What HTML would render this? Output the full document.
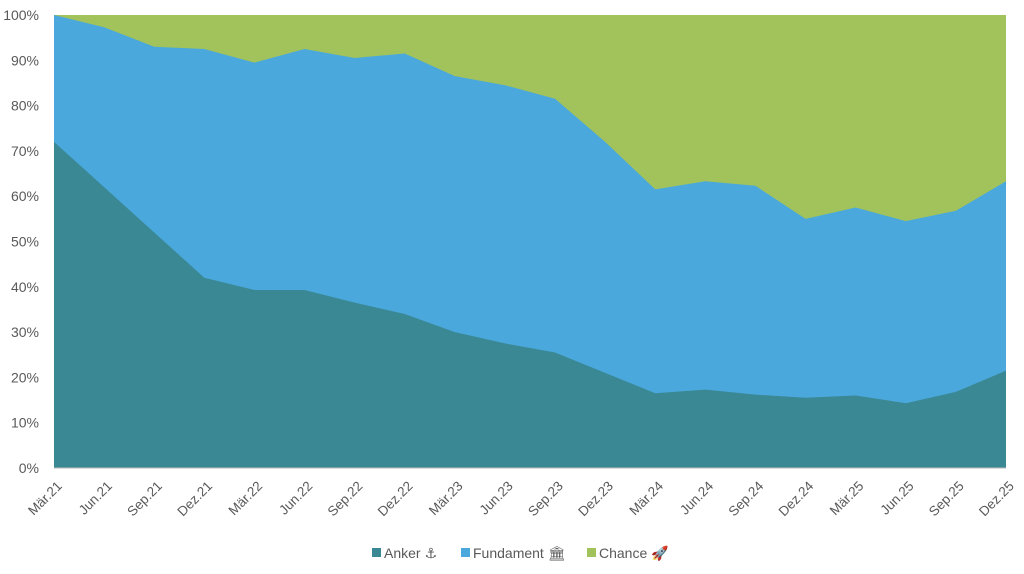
<!DOCTYPE html>
<html><head><meta charset="utf-8"><style>
body{margin:0;background:#fff;width:1024px;height:569px;overflow:hidden;font-family:"Liberation Sans","DejaVu Sans",sans-serif}
</style></head><body>
<svg width="1024" height="569" xmlns="http://www.w3.org/2000/svg" font-family="Liberation Sans, DejaVu Sans, sans-serif">
<g id="c"></g>
</svg>
<script>
const A=[72,62,52,42,39.3,39.3,36.5,34,30,27.5,25.5,21,16.5,17.3,16.2,15.5,16,14.3,16.8,21.5];
const T=[100,97.3,93,92.5,89.5,92.5,90.5,91.5,86.5,84.5,81.5,72,61.5,63.3,62.3,55,57.5,54.5,56.8,63.3];
const L=["Mär.21","Jun.21","Sep.21","Dez.21","Mär.22","Jun.22","Sep.22","Dez.22","Mär.23","Jun.23","Sep.23","Dez.23","Mär.24","Jun.24","Sep.24","Dez.24","Mär.25","Jun.25","Sep.25","Dez.25"];
const n=L.length,x0=54,x1=1006,y0=468,y1=15;
const X=i=>x0+(x1-x0)*i/(n-1),Y=v=>y0-(y0-y1)*v/100;
let s='';
s+=`<rect x="${x0}" y="${y1}" width="${x1-x0}" height="${y0-y1}" fill="#a2c35b"/>`;
let p=`M${x0},${y0} `;T.forEach((v,i)=>p+=`L${X(i)},${Y(v)} `);p+=`L${x1},${y0}Z`;
s+=`<path d="${p}" fill="#4aa8dc"/>`;
p=`M${x0},${y0} `;A.forEach((v,i)=>p+=`L${X(i)},${Y(v)} `);p+=`L${x1},${y0}Z`;
s+=`<path d="${p}" fill="#3a8893"/>`;
for(let k=0;k<=10;k++){s+=`<text x="39" y="${Y(k*10)+5}" font-size="14" text-anchor="end" fill="#595959">${k*10}%</text>`;}
s+=`<line x1="${x0}" y1="${y0}" x2="${x1}" y2="${y0}" stroke="#bbb"/>`;
L.forEach((l,i)=>{s+=`<text transform="translate(${X(i)+2},${y0+12}) rotate(-45)" font-size="13.5" text-anchor="end" dominant-baseline="hanging" fill="#595959">${l}</text>`});
const lg=[["#3a8893","Anker ⚓",372],["#4aa8dc","Fundament 🏛",461],["#a2c35b","Chance 🚀",587]];
lg.forEach(([c,t,x])=>{s+=`<rect x="${x}" y="548" width="9" height="9" fill="${c}"/><text x="${x+12}" y="558" font-size="14" fill="#595959">${t}</text>`});
document.getElementById('c').innerHTML=s;
</script>
</body></html>
